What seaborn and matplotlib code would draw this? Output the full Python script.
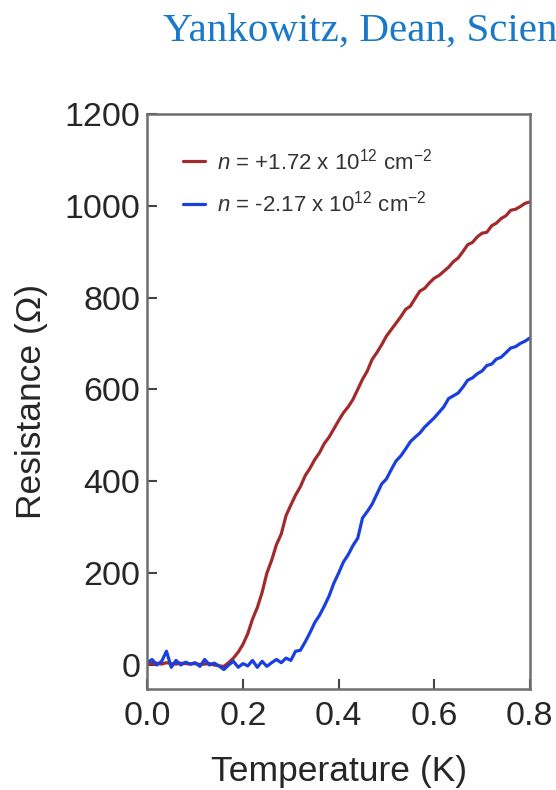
import numpy as np
import pandas as pd
import matplotlib
matplotlib.use("Agg")
import matplotlib.pyplot as plt
import seaborn as sns
from matplotlib.lines import Line2D

# ---- data ----
temperature = [round(0.01 * i, 2) for i in range(81)]

r_pos = [5, 3, 4, 2, 5, 3, 2, 4, 3, 2, 3, 1, 2, 3, 0, -2, -3,
         5, 15, 28, 45, 68, 100, 125, 158, 200, 228, 262, 285, 325,
         348, 370, 388, 412, 428, 447, 462, 482, 496, 514, 532,
         549, 562, 578, 600, 622, 640, 665, 680, 697, 716,
         730, 744, 758, 774, 781, 798, 814, 820, 832, 842,
         848, 857, 866, 878, 886, 900, 915, 920, 932, 940,
         942, 956, 962, 972, 978, 990, 992, 998, 1005, 1008]

r_neg = [5, 12, 0, 8, 30, -5, 10, 0, 6, 2, 5, -3, 12, 0, 4, -2, -10,
         0, 8, -5, 3, -2, 10, -5, 8, -3, 5, 12, 5, 15, 10,
         30, 32, 50, 70, 92, 108, 128, 150, 178, 200,
         224, 240, 260, 276, 320, 334, 350, 372, 394, 405,
         425, 444, 455, 470, 486, 496, 505, 518, 528, 538,
         550, 562, 580, 586, 592, 605, 620, 625, 634, 640,
         652, 655, 666, 670, 680, 690, 693, 700, 705, 712]

labels = [r"$n$ = +1.72 x 10$^{12}$ cm$^{-2}$",
          r"$n$ = -2.17 x 10$^{12}$ cm$^{-2}$"]
colors = ["#a32a2b", "#1a3fe0"]
x_ticks = [0.0, 0.2, 0.4, 0.6, 0.8]
y_ticks = [0, 200, 400, 600, 800, 1000, 1200]

df = pd.DataFrame({
    "T": temperature * 2,
    "R": r_pos + r_neg,
    "series": [labels[0]] * len(temperature) + [labels[1]] * len(temperature),
})

sns.set_theme(style="ticks")
plt.rcParams["font.family"] = ["Liberation Sans", "DejaVu Sans"]
plt.rcParams["mathtext.fontset"] = "custom"
plt.rcParams["mathtext.rm"] = "Liberation Sans"
plt.rcParams["mathtext.it"] = "Liberation Sans:italic"

fig = plt.figure(figsize=(5.56, 7.90), dpi=100)
ax = fig.add_axes([0.265, 0.128, 0.688, 0.728])

sns.lineplot(data=df, x="T", y="R", hue="series", palette=colors,
             linewidth=2.3, ax=ax, legend=False, estimator=None)

ax.set_xlim(0, 0.8)
ax.set_ylim(-52, 1200)
ax.set_xticks(x_ticks)
ax.set_xticklabels([f"{v:.1f}" for v in x_ticks])
ax.set_yticks(y_ticks)
ax.set_yticklabels([str(v) for v in y_ticks])

for sp in ax.spines.values():
    sp.set_visible(True)
    sp.set_color("#6e6e6e")
    sp.set_linewidth(1.8)

ax.tick_params(direction="in", length=7, width=1.5, color="#444444",
               labelsize=24.5, labelcolor="#262626")
ax.tick_params(axis="x", pad=9)
ax.tick_params(axis="y", pad=5)

ax.set_xlabel("Temperature (K)", fontsize=25.5, color="#262626", labelpad=16)
ax.set_ylabel("Resistance (Ω)", fontsize=25.5, color="#262626", labelpad=12)

handles = [Line2D([], [], color=c, lw=2.3) for c in colors]
ax.legend(handles, labels, loc="upper left", bbox_to_anchor=(0.04, 0.975),
          frameon=False, fontsize=16, handlelength=1.0, handletextpad=0.55,
          labelspacing=0.75, labelcolor="#333333")

fig.text(0.293, 0.949, "Yankowitz, Dean, Science", fontsize=29.5,
         family=["Liberation Serif", "DejaVu Serif"], color="#1a78c8",
         ha="left", va="baseline")

fig.savefig("out.png", dpi=100)
